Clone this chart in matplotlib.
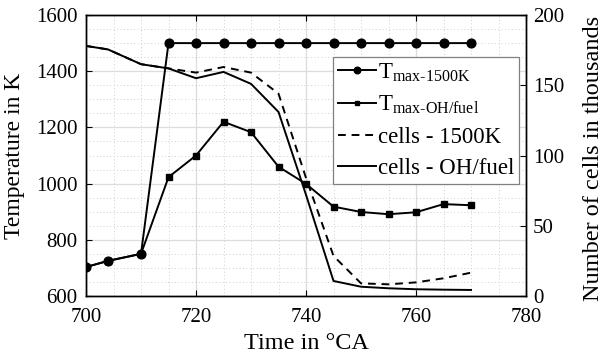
import numpy as np
import matplotlib
matplotlib.use("Agg")
import matplotlib.pyplot as plt
from matplotlib.ticker import MultipleLocator

plt.rcParams['font.family'] = ['Liberation Serif', 'DejaVu Serif']
plt.rcParams['mathtext.fontset'] = 'custom'
plt.rcParams['mathtext.rm'] = 'Liberation Serif'
plt.rcParams['mathtext.it'] = 'Liberation Serif:italic'

# crank angle (°CA)
time_ca = [700, 704, 710, 715, 720, 725, 730, 735, 740, 745, 750, 755, 760, 765, 770]

# max temperature in K
t_max_1500k = [703, 725, 750, 1500, 1500, 1500, 1500, 1500, 1500, 1500, 1500, 1500, 1500, 1500, 1500]
t_max_oh_fuel = [703, 725, 750, 1023, 1100, 1220, 1183, 1060, 999, 918, 899, 891, 898, 927, 923]

# number of cells in thousands
cells_1500k = [178, 175.5, 165, 162, 159, 163, 159, 144, 84, 28.5, 9, 8.3, 9.7, 12.6, 16.6]
cells_oh_fuel = [178, 175.5, 165, 162, 155, 159.5, 151, 131, 72, 10.7, 6.6, 5.5, 4.8, 4.5, 4.3]

fig = plt.figure(figsize=(6.04, 3.55), dpi=100)
ax = fig.add_axes([0.1424, 0.1662, 0.7285, 0.7915])
ax2 = ax.twinx()

lw = 1.4
l2, = ax.plot(time_ca, t_max_oh_fuel, color='black', lw=lw, marker='s', ms=4.8,
              label=r'T$_{\text{max-OH/fuel}}$', zorder=3)
l1, = ax.plot(time_ca, t_max_1500k, color='black', lw=lw, marker='o', ms=6.3,
              label=r'T$_{\text{max-1500K}}$', zorder=4)
l3, = ax2.plot(time_ca, cells_1500k, color='black', lw=lw, ls=(0, (4, 3)),
               label='cells - 1500K')
l4, = ax2.plot(time_ca, cells_oh_fuel, color='black', lw=lw,
               label='cells - OH/fuel')

ax.set_xlim(700, 780)
ax.set_ylim(600, 1600)
ax2.set_ylim(0, 200)
ax.xaxis.set_major_locator(MultipleLocator(20))
ax.xaxis.set_minor_locator(MultipleLocator(5))
ax.yaxis.set_major_locator(MultipleLocator(200))
ax.yaxis.set_minor_locator(MultipleLocator(50))
ax2.yaxis.set_major_locator(MultipleLocator(50))

ax.grid(which='major', color='#dcdcdc', lw=0.9)
ax.grid(which='minor', color='#cfcfcf', lw=0.7, ls=(0, (1, 2.5)))
ax.set_axisbelow(True)

ax.tick_params(which='major', direction='in', length=4, width=0.8, labelsize=15, top=True)
ax.tick_params(axis='x', pad=9)
ax.tick_params(axis='y', pad=6)
ax.tick_params(which='minor', length=0)
ax2.tick_params(direction='in', length=4, width=0.8, labelsize=15, pad=5)
for a in (ax, ax2):
    for s in a.spines.values():
        s.set_linewidth(1.0)

ax.set_xlabel('Time in °CA', fontsize=17.5)
ax.set_ylabel('Temperature in K', fontsize=17)
ax2.set_ylabel('Number of cells in thousands', fontsize=17.5)
ax.xaxis.set_label_coords(0.5, -0.132)
ax.yaxis.set_label_coords(-0.139, 0.5)
ax2.yaxis.set_label_coords(1.13, 0.49)

leg = ax2.legend(handles=[l1, l2, l3, l4], loc='upper right', bbox_to_anchor=(0.984, 0.851),
                 fontsize=16.5, fancybox=False, framealpha=1, edgecolor='#808080',
                 handlelength=1.65, handletextpad=0.1, labelspacing=0.45,
                 borderpad=0.2, borderaxespad=0, markerscale=0.75)
leg.get_frame().set_linewidth(0.9)

fig.savefig('out.png', dpi=100)
